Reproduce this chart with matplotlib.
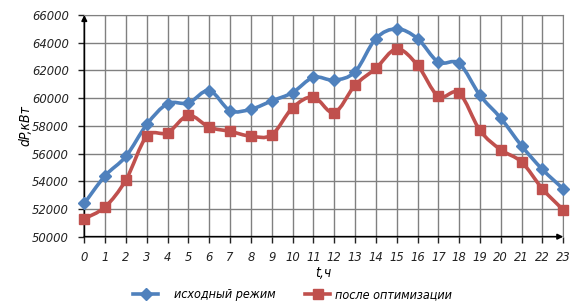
import matplotlib
matplotlib.use("Agg")
import matplotlib.pyplot as plt
from matplotlib.path import Path
from matplotlib.patches import PathPatch
from matplotlib.lines import Line2D

# ============================================================
# DADOS
# ============================================================

hours = list(range(24))

base_mode = [
    52400, 54400, 55800, 58100, 59600, 59650, 60550, 59100,
    59200, 59800, 60400, 61500, 61300, 61900, 64300, 65000,
    64300, 62600, 62500, 60200, 58550, 56550, 54850, 53450
]

optimized = [
    51300, 52150, 54100, 57250, 57500, 58750, 57900, 57600,
    57250, 57350, 59300, 60080, 58950, 60930, 62150, 63550,
    62380, 60130, 60370, 57670, 56270, 55390, 53450, 51930
]

y_ticks = list(range(50000, 66001, 2000))

label_base = "исходный режим"
label_opt = "после оптимизации"

BLUE = "#4F81BD"
RED = "#C0504D"

plt.rcParams["font.family"] = ["DejaVu Sans"]
plt.rcParams["font.style"] = "italic"
plt.rcParams["font.stretch"] = "condensed"


def smooth_path(xs, ys):
    # curva suavizada estilo Excel (Catmull-Rom -> Bezier)
    verts = [(xs[0], ys[0])]
    codes = [Path.MOVETO]
    n = len(xs)
    for i in range(n - 1):
        x0, y0 = (xs[i - 1], ys[i - 1]) if i > 0 else (xs[i], ys[i])
        x1, y1 = xs[i], ys[i]
        x2, y2 = xs[i + 1], ys[i + 1]
        x3, y3 = (xs[i + 2], ys[i + 2]) if i + 2 < n else (x2, y2)
        c1 = (x1 + (x2 - x0) / 6, y1 + (y2 - y0) / 6)
        c2 = (x2 - (x3 - x1) / 6, y2 - (y3 - y1) / 6)
        verts += [c1, c2, (x2, y2)]
        codes += [Path.CURVE4] * 3
    return Path(verts, codes)


# ============================================================
# GRÁFICO
# ============================================================

fig = plt.figure(figsize=(5.85, 3.04), dpi=100)
ax = fig.add_axes([0.1441, 0.2214, 0.8188, 0.7293])

ax.set_xlim(0, 23)
ax.set_ylim(50000, 66000)
ax.set_xticks(hours)
ax.set_yticks(y_ticks)
ax.tick_params(labelsize=9.3, colors="#222222", length=4, width=1, pad=7)
ax.tick_params(axis="x", pad=6)

ax.grid(True, color="#808080", linewidth=1)
ax.set_axisbelow(True)

for side in ["top", "right"]:
    ax.spines[side].set_color("#808080")
for side in ["left", "bottom"]:
    ax.spines[side].set_visible(False)

ax.annotate("", xy=(0, 1.0), xytext=(0, 0), xycoords="axes fraction",
            arrowprops=dict(arrowstyle="-|>", color="black", lw=1.2,
                            mutation_scale=8, shrinkA=0, shrinkB=0))
ax.annotate("", xy=(1.0, 0), xytext=(0, 0), xycoords="axes fraction",
            arrowprops=dict(arrowstyle="-|>", color="black", lw=1.2,
                            mutation_scale=8, shrinkA=0, shrinkB=0))

for ys, color in [(base_mode, BLUE), (optimized, RED)]:
    patch = PathPatch(smooth_path(hours, ys), facecolor="none",
                      edgecolor=color, linewidth=2.6, zorder=3,
                      capstyle="round", joinstyle="round")
    ax.add_patch(patch)

ax.plot(hours, base_mode, linestyle="none", marker="D", markersize=6,
        color=BLUE, zorder=4, clip_on=False)
ax.plot(hours, optimized, linestyle="none", marker="s", markersize=7.5,
        color=RED, zorder=4, clip_on=False)

ax.set_xlabel("t,ч", fontsize=10, labelpad=2)
ax.set_ylabel("dP,кВт", fontsize=10)
ax.yaxis.set_label_coords(-0.109, 0.5)

# ============================================================
# LEGENDA
# ============================================================

leg_blue = fig.legend(
    [Line2D([], [], color=BLUE, lw=2.6, marker="D", markersize=6)],
    [label_base], loc="center left", bbox_to_anchor=(0.2274, 0.03),
    frameon=False, fontsize=9, handlelength=2.0, handletextpad=1.3,
    borderpad=0, borderaxespad=0
)
leg_red = fig.legend(
    [Line2D([], [], color=RED, lw=2.6, marker="s", markersize=7.5)],
    [label_opt], loc="center left", bbox_to_anchor=(0.5214, 0.03),
    frameon=False, fontsize=9, handlelength=2.0, handletextpad=0.4,
    borderpad=0, borderaxespad=0
)

plt.savefig("out.png", dpi=100)
plt.close()
